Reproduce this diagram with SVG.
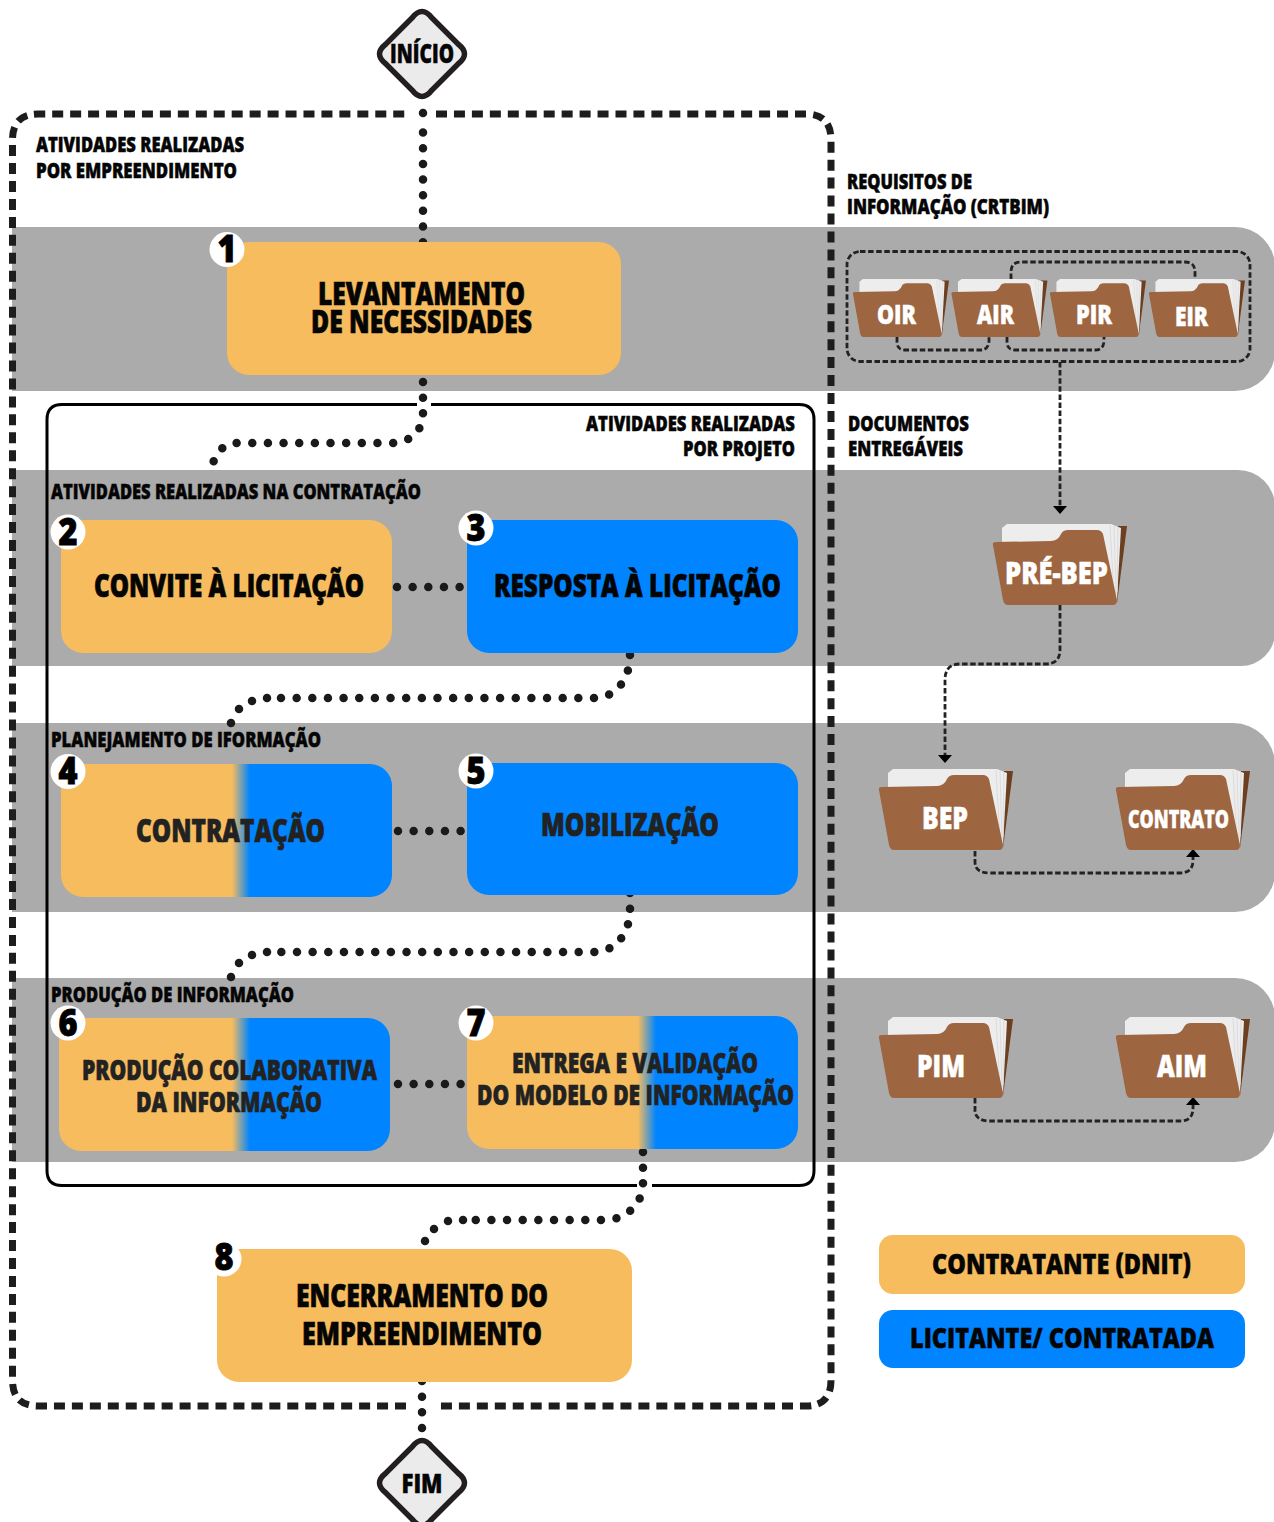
<svg xmlns="http://www.w3.org/2000/svg" width="1274" height="1522" viewBox="0 0 1274 1522">
<style>
text{font-family:"Open Sans","Noto Sans","Liberation Sans",sans-serif;font-weight:800;fill:#050505;stroke:#050505;stroke-width:.5;text-anchor:middle}
.l{text-anchor:start;font-size:21px}
.r{text-anchor:end;font-size:21px}
.b{font-size:31px;stroke-width:.7}
.m{font-size:28px;stroke-width:.7}
.w{fill:#fff;stroke:#fff}
.n{font-size:37px;fill:#000;stroke:#000;stroke-width:.9}
.band{fill:#ababab}
.o{fill:#f6bc5e}
.u{fill:#0084ff}
.dots{fill:none;stroke:#1a1a1a;stroke-width:8.5;stroke-linecap:round;stroke-dasharray:0 15.65}
.pt{fill:none;stroke:#1a1a1a;stroke-width:8.5;stroke-linecap:round}
.thin{fill:none;stroke:#222;stroke-width:2.8;stroke-dasharray:5.5 2.6}
.big{fill:none;stroke:#1d1d1d;stroke-width:7;stroke-dasharray:11 6.95}
.dia{fill:#ebebeb;stroke:#231f20;stroke-width:5.5}
</style>
<defs>
<linearGradient id="g4" gradientUnits="userSpaceOnUse" x1="232" y1="0" x2="250" y2="0"><stop offset="0" stop-color="#f6bc5e"/><stop offset="1" stop-color="#0084ff"/></linearGradient>
<linearGradient id="g7" gradientUnits="userSpaceOnUse" x1="638" y1="0" x2="656" y2="0"><stop offset="0" stop-color="#f6bc5e"/><stop offset="1" stop-color="#0084ff"/></linearGradient>
<marker id="arr" markerUnits="userSpaceOnUse" markerWidth="8" markerHeight="14" refX="0" refY="7" orient="auto" viewBox="0 0 8 14"><path d="M0 0L8 7L0 14Z" fill="#000"/></marker>
<g id="folder">
<path d="M125 2H134L124 79Z" fill="#6b3f1f"/>
<path d="M9 20V4L14 0H118L128 4L124 76Z" fill="#ededed"/>
<path d="M117 1L121 72M121 2L123 70M125 3L124 68" stroke="#dcdcdc" stroke-width="1" fill="none"/>
<path d="M0 21Q-1 18 3 18L58 17Q65 17 68 10Q70 6 75 6L104 6Q108 6 110 10L124 76Q124 81 120 81L15 81Q11 81 10 76Z" fill="#9d6540"/>
</g>
<path id="dia" d="M-10 -36Q0 -49 10 -36L36 -10Q49 0 36 10L10 36Q0 49 -10 36L-36 10Q-49 0 -36 -10Z" class="dia"/>
</defs>

<g id="bands">
<path class="band" d="M12 227H1235A40 40 0 0 1 1275 267V351A40 40 0 0 1 1235 391H12Z"/>
<path class="band" d="M12 470H1238A37 37 0 0 1 1275 507V632A34 34 0 0 1 1241 666H12Z"/>
<path class="band" d="M12 723H1233A42 42 0 0 1 1275 765V872A40 40 0 0 1 1235 912H12Z"/>
<path class="band" d="M12 978H1235A40 40 0 0 1 1275 1018V1122A40 40 0 0 1 1235 1162H12Z"/>
</g>

<g id="frames">
<path class="big" d="M406 1406H38Q12.500 1406 12.500 1380V140Q12.500 114 38 114H408"/>
<path class="big" d="M436 114H806Q831 114 831 140V1380Q831 1406 806 1406H439"/>
<path d="M431 404.500H799Q814 404.500 814 419.500V1170.500Q814 1185.500 799 1185.500H652M637 1185.500H62Q47 1185.500 47 1170.500V419.500Q47 404.500 62 404.500H417" fill="none" stroke="#000" stroke-width="3"/>
<rect x="847" y="251.500" width="403" height="110" rx="13" class="thin"/>
</g>

<g id="connectors">
<path class="dots" d="M423 132.600V245"/>
<path class="pt" d="M423 113h.01"/>
<path class="dots" d="M423 382V414C423 431 410 443 391 443H235C226 443 217 451 213 463"/>
<path class="dots" d="M630 655C630 680 615 698 594 698H268"/>
<path class="pt" d="M267 698h.01M252 701h.01M239 709h.01M231 723h.01"/>
<path class="dots" d="M630 893V909C630 934 615 952 594 952H268"/>
<path class="pt" d="M267 952h.01M252 955h.01M239 963h.01M231 977h.01"/>
<path class="dots" d="M643 1152V1183C643 1205 625 1220 604 1220H463"/>
<path class="pt" d="M463 1220h.01M448 1221h.01M434 1229h.01M425 1241h.01"/>
<path class="dots" d="M422 1381V1430"/>
<path class="dots" d="M397 587H462"/>
<path class="dots" d="M398 831H462"/>
<path class="dots" d="M398 1084H462"/>
<path class="thin" d="M1011 279V272Q1011 262 1021 262H1185Q1195 262 1195 272V279"/>
<path class="thin" d="M897 337V342Q897 350 905 350H980Q989 350 989 340V337"/>
<path class="thin" d="M1007 337V342Q1007 350 1015 350H1095Q1104 350 1104 340V337"/>
<path class="thin" d="M1060 362V506" marker-end="url(#arr)"/>
<path class="thin" d="M1060 605V650Q1060 664 1045 664H960Q945 664 945 680V755" marker-end="url(#arr)"/>
<path class="thin" d="M975 851V862Q975 873 990 873H1180Q1193 873 1193 860V857" marker-end="url(#arr)"/>
<path class="thin" d="M975 1098V1110Q975 1121 990 1121H1180Q1193 1121 1193 1108V1105" marker-end="url(#arr)"/>
</g>

<g id="inicio"><use href="#dia" x="422" y="54"/><text x="422" y="62.500" font-size="26" textLength="64" lengthAdjust="spacingAndGlyphs">INÍCIO</text></g>
<g id="fim"><use href="#dia" x="422" y="1483"/><text x="422" y="1492.500" font-size="27" textLength="41" lengthAdjust="spacingAndGlyphs">FIM</text></g>

<g id="labels">
<text class="l" x="36" y="152" textLength="208" lengthAdjust="spacingAndGlyphs">ATIVIDADES REALIZADAS</text>
<text class="l" x="36" y="178" textLength="201" lengthAdjust="spacingAndGlyphs">POR EMPREENDIMENTO</text>
<text class="l" x="847" y="189" textLength="125" lengthAdjust="spacingAndGlyphs">REQUISITOS DE</text>
<text class="l" x="847" y="214" textLength="202" lengthAdjust="spacingAndGlyphs">INFORMAÇÃO (CRTBIM)</text>
<text class="l" x="848" y="431" textLength="121" lengthAdjust="spacingAndGlyphs">DOCUMENTOS</text>
<text class="l" x="848" y="456" textLength="115" lengthAdjust="spacingAndGlyphs">ENTREGÁVEIS</text>
<text class="r" x="795" y="431" textLength="209" lengthAdjust="spacingAndGlyphs">ATIVIDADES REALIZADAS</text>
<text class="r" x="795" y="456" textLength="112" lengthAdjust="spacingAndGlyphs">POR PROJETO</text>
<text class="l" x="51" y="499" textLength="370" lengthAdjust="spacingAndGlyphs">ATIVIDADES REALIZADAS NA CONTRATAÇÃO</text>
<text class="l" x="51" y="747" textLength="270" lengthAdjust="spacingAndGlyphs">PLANEJAMENTO DE IFORMAÇÃO</text>
<text class="l" x="51" y="1002" textLength="243" lengthAdjust="spacingAndGlyphs">PRODUÇÃO DE INFORMAÇÃO</text>
</g>

<g id="node1"><rect class="o" x="227" y="242" width="394" height="133" rx="22"/><circle cx="227" cy="249.500" r="17.500" fill="#fff"/><text class="n" x="227" y="262" textLength="19" lengthAdjust="spacingAndGlyphs">1</text>
<text class="b" x="421.500" y="305" textLength="207" lengthAdjust="spacingAndGlyphs">LEVANTAMENTO</text><text class="b" x="421.500" y="333" textLength="221" lengthAdjust="spacingAndGlyphs">DE NECESSIDADES</text></g>
<g id="node2"><rect class="o" x="61" y="520" width="331" height="133" rx="22"/><circle cx="68" cy="532" r="17.500" fill="#fff"/><text class="n" x="68" y="545" textLength="19" lengthAdjust="spacingAndGlyphs">2</text>
<text class="b" x="229" y="596.500" textLength="270" lengthAdjust="spacingAndGlyphs">CONVITE À LICITAÇÃO</text></g>
<g id="node3"><rect class="u" x="467" y="520" width="331" height="133" rx="22"/><circle cx="476" cy="528" r="17.500" fill="#fff"/><text class="n" x="476" y="541" textLength="19" lengthAdjust="spacingAndGlyphs">3</text>
<text class="b" x="637.500" y="596.500" textLength="287" lengthAdjust="spacingAndGlyphs">RESPOSTA À LICITAÇÃO</text></g>
<g id="node4"><rect x="61" y="764" width="331" height="133" rx="22" fill="url(#g4)"/><circle cx="68" cy="771.500" r="17.500" fill="#fff"/><text class="n" x="68" y="784" textLength="19" lengthAdjust="spacingAndGlyphs">4</text>
<text class="b" x="230.500" y="842" textLength="189" lengthAdjust="spacingAndGlyphs" style="fill:#222;stroke:#222">CONTRATAÇÃO</text></g>
<g id="node5"><rect class="u" x="467" y="763" width="331" height="132" rx="22"/><circle cx="476" cy="771" r="17.500" fill="#fff"/><text class="n" x="476" y="784" textLength="19" lengthAdjust="spacingAndGlyphs">5</text>
<text class="b" x="630" y="836" textLength="178" lengthAdjust="spacingAndGlyphs" style="fill:#222;stroke:#222">MOBILIZAÇÃO</text></g>
<g id="node6"><rect x="59" y="1018" width="331" height="133" rx="22" fill="url(#g4)"/><circle cx="68" cy="1023" r="17.500" fill="#fff"/><text class="n" x="68" y="1036" textLength="19" lengthAdjust="spacingAndGlyphs">6</text>
<text class="m" x="229.500" y="1080" textLength="295" lengthAdjust="spacingAndGlyphs" style="fill:#222;stroke:#222">PRODUÇÃO COLABORATIVA</text><text class="m" x="229" y="1112" textLength="186" lengthAdjust="spacingAndGlyphs" style="fill:#222;stroke:#222">DA INFORMAÇÃO</text></g>
<g id="node7"><rect x="467" y="1016" width="331" height="133" rx="22" fill="url(#g7)"/><circle cx="476" cy="1023" r="17.500" fill="#fff"/><text class="n" x="476" y="1036" textLength="19" lengthAdjust="spacingAndGlyphs">7</text>
<text class="m" x="635" y="1073" textLength="246" lengthAdjust="spacingAndGlyphs" style="fill:#222;stroke:#222">ENTREGA E VALIDAÇÃO</text><text class="m" x="635.500" y="1105" textLength="317" lengthAdjust="spacingAndGlyphs" style="fill:#222;stroke:#222">DO MODELO DE INFORMAÇÃO</text></g>
<g id="node8"><rect class="o" x="217" y="1249" width="415" height="133" rx="22"/><circle cx="224" cy="1259" r="17.500" fill="#fff"/><text class="n" x="224" y="1270" textLength="19" lengthAdjust="spacingAndGlyphs">8</text>
<text class="b" x="422" y="1307" textLength="252" lengthAdjust="spacingAndGlyphs">ENCERRAMENTO DO</text><text class="b" x="422" y="1345" textLength="240" lengthAdjust="spacingAndGlyphs">EMPREENDIMENTO</text></g>

<g id="doc-oir"><use href="#folder" transform="translate(853 279) scale(.716)"/><text class="w" x="896.500" y="324" font-size="26" textLength="39" lengthAdjust="spacingAndGlyphs">OIR</text></g>
<g id="doc-air"><use href="#folder" transform="translate(951.500 279) scale(.716)"/><text class="w" x="995.500" y="324" font-size="26" textLength="37" lengthAdjust="spacingAndGlyphs">AIR</text></g>
<g id="doc-pir"><use href="#folder" transform="translate(1050 279) scale(.716)"/><text class="w" x="1094" y="324" font-size="26" textLength="36" lengthAdjust="spacingAndGlyphs">PIR</text></g>
<g id="doc-eir"><use href="#folder" transform="translate(1149 279) scale(.716)"/><text class="w" x="1191.500" y="326" font-size="26" textLength="33" lengthAdjust="spacingAndGlyphs">EIR</text></g>
<g id="doc-prebep"><use href="#folder" transform="translate(993 524)"/><text class="w" x="1056.500" y="584" font-size="30" textLength="103" lengthAdjust="spacingAndGlyphs">PRÉ-BEP</text></g>
<g id="doc-bep"><use href="#folder" transform="translate(879 769)"/><text class="w" x="945" y="829" font-size="30" textLength="46" lengthAdjust="spacingAndGlyphs">BEP</text></g>
<g id="doc-contrato"><use href="#folder" transform="translate(1116 769)"/><text class="w" x="1178.500" y="828" font-size="25" textLength="101" lengthAdjust="spacingAndGlyphs">CONTRATO</text></g>
<g id="doc-pim"><use href="#folder" transform="translate(879 1017)"/><text class="w" x="941" y="1077" font-size="30" textLength="48" lengthAdjust="spacingAndGlyphs">PIM</text></g>
<g id="doc-aim"><use href="#folder" transform="translate(1116 1017)"/><text class="w" x="1182" y="1077" font-size="30" textLength="50" lengthAdjust="spacingAndGlyphs">AIM</text></g>

<g id="legend-contratante"><rect class="o" x="879" y="1235" width="366" height="59" rx="14"/><text x="1061.500" y="1274" font-size="29" textLength="259" lengthAdjust="spacingAndGlyphs">CONTRATANTE (DNIT)</text></g>
<g id="legend-licitante"><rect class="u" x="879" y="1310" width="366" height="58" rx="14"/><text x="1062" y="1348" font-size="29" textLength="304" lengthAdjust="spacingAndGlyphs">LICITANTE/ CONTRATADA</text></g>
</svg>
